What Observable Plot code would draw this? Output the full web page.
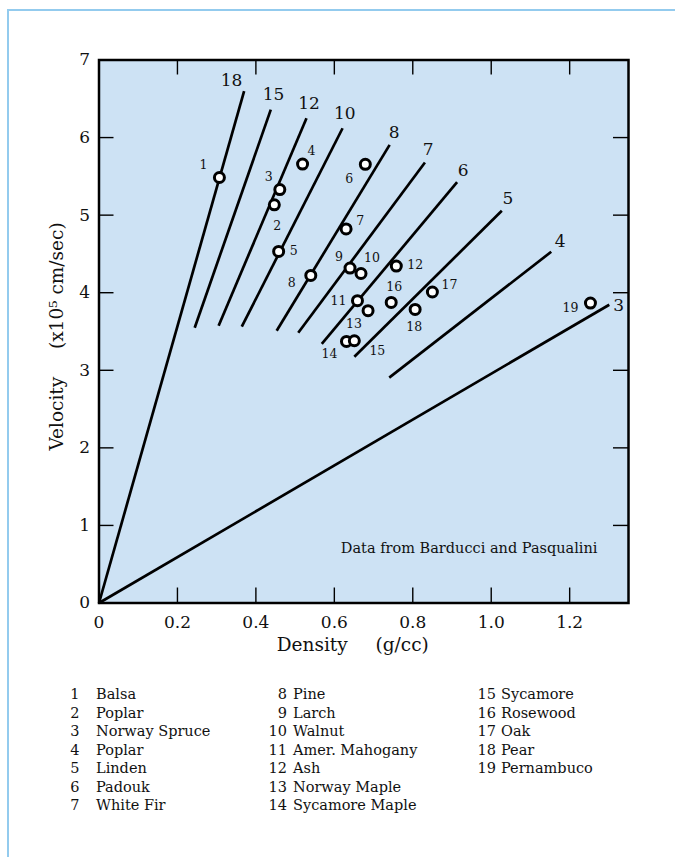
<!DOCTYPE html>
<html><head><meta charset="utf-8">
<script src="https://cdn.jsdelivr.net/npm/d3@7"></script>
<script src="https://cdn.jsdelivr.net/npm/@observablehq/plot@0.6"></script>
<style>
html,body{margin:0;padding:0;background:#fff;overflow:hidden;width:675px;height:857px;}
#page{position:relative;width:675px;height:857px;font-family:"DejaVu Serif",serif;color:#111;}
#border{position:absolute;left:7px;top:9px;width:720px;height:900px;border-left:2px solid #93cbee;border-top:2px solid #93cbee;}
#chart{position:absolute;left:0;top:0;}
#legend{position:absolute;left:0;top:685px;font-size:14.5px;line-height:18.5px;}
.item{position:absolute;white-space:nowrap;}
.num{position:absolute;text-align:right;width:30px;}
.name{position:absolute;}
</style>
</head><body><div id="page"><div id="border"></div><div id="chart"></div><div id="legend"></div></div>
<script>
// ---- data ----
const woodIds = [1,2,3,4,5,6,7,8,9,10,11,12,13,14,15,16,17,18,19];
const woodNames = ["Balsa","Poplar","Norway Spruce","Poplar","Linden","Padouk","White Fir",
  "Pine","Larch","Walnut","Amer. Mahogany","Ash","Norway Maple","Sycamore Maple",
  "Sycamore","Rosewood","Oak","Pear","Pernambuco"];
const density  = [0.307,0.447,0.461,0.519,0.458,0.679,0.630,0.540,0.640,0.668,0.659,0.758,0.686,0.631,0.651,0.745,0.850,0.806,1.253];
const velocity = [5.485,5.133,5.330,5.658,4.532,5.655,4.822,4.223,4.318,4.248,3.897,4.344,3.768,3.372,3.381,3.875,4.009,3.785,3.867];

const ratioLines        = [18,15,12,10,8,7,6,5,4,3];
const lineStartDensity  = [0,0.244,0.305,0.364,0.453,0.508,0.568,0.651,0.740,0];
const lineStartVelocity = [0,3.549,3.575,3.562,3.510,3.484,3.339,3.175,2.905,0];
const lineEndDensity    = [0.370,0.438,0.529,0.621,0.741,0.831,0.913,1.027,1.153,1.301];
const lineEndVelocity   = [6.600,6.360,6.250,6.120,5.906,5.678,5.426,5.056,4.528,3.845];

const xTickValues = [0,0.2,0.4,0.6,0.8,1.0,1.2];
const xTickLabels = ["0","0.2","0.4","0.6","0.8","1.0","1.2"];
const yTickValues = [0,1,2,3,4,5,6,7];
const yTickLabels = ["0","1","2","3","4","5","6","7"];

const xTitle = "Density\u2003\u2002(g/cc)";
const yTitle = "Velocity\u2003\u2002(x10\u2075 cm/sec)";
const note = "Data from Barducci and Pasqualini";

// ---- layout (pixel offsets of labels) ----
const pointLabelOffsets = [[-16,-13],[3,21],[-11,-13],[9,-13],[15,0],[-16,15],[14,-8],[-19,8],[-11,-11],[11,-15],[-19,0],[19,-1],[-14,13],[-17,13],[23,10],[3,-15],[17,-7],[-1,18],[-20,5]];
const lineLabelOffsets = [[-12.6,-10.7],[2.7,-15],[2.6,-15],[2.3,-15],[4.6,-12.3],[3.3,-13.4],[6,-12],[6,-12.7],[9,-10],[9.3,1]];

const woods = woodIds.map((id,i)=>({id, name:woodNames[i], x:density[i], y:velocity[i]}));
const lines = ratioLines.map((k,i)=>({k, x1:lineStartDensity[i], y1:lineStartVelocity[i], x2:lineEndDensity[i], y2:lineEndVelocity[i]}));

const W = 675, mL = 98.5, mR = 47, mT = 59.5, mB = 67.5, H = 670;
const innerW = W - mL - mR, innerH = H - mT - mB;
const T = 15;

const plot = Plot.plot({
  width: W, height: H,
  marginLeft: mL, marginRight: mR, marginTop: mT, marginBottom: mB,
  style: {fontFamily: "DejaVu Serif", background: "transparent", color: "#111"},
  x: {domain: [0, 1.35]},
  y: {domain: [0, 7]},
  marks: [
    Plot.frame({fill: "#cde2f4"}),
    Plot.tickX(xTickValues.slice(1), {x: d=>d, stroke:"black", strokeWidth:1.4, insetTop: innerH - T}),
    Plot.tickX(xTickValues.slice(1), {x: d=>d, stroke:"black", strokeWidth:1.4, insetBottom: innerH - T}),
    Plot.tickY(yTickValues.slice(1,-1), {y: d=>d, stroke:"black", strokeWidth:1.4, insetRight: innerW - T}),
    Plot.tickY(yTickValues.slice(1,-1), {y: d=>d, stroke:"black", strokeWidth:1.4, insetLeft: innerW - T}),
    Plot.link(lines, {x1:"x1", y1:"y1", x2:"x2", y2:"y2", stroke:"black", strokeWidth:2.7}),
    ...lines.map((l,i)=>Plot.text([l], {x:"x2", y:"y2", text: d=>String(d.k), dx: lineLabelOffsets[i][0], dy: lineLabelOffsets[i][1], fontSize:17, fill:"#111"})),
    Plot.dot(woods, {x:"x", y:"y", r:5, fill:"white", stroke:"black", strokeWidth:3}),
    ...woods.map((w,i)=>Plot.text([w], {x:"x", y:"y", text: d=>String(d.id), dx: pointLabelOffsets[i][0], dy: pointLabelOffsets[i][1], fontSize:12.5, fill:"#111"})),
    Plot.text([note], {text: d=>d, frameAnchor:"bottom-right", textAnchor:"end", dx:-31, dy:-50, fontSize:14.5, fill:"#111"}),
    Plot.frame({stroke:"black", strokeWidth:2.5}),
    Plot.axisX(xTickValues, {anchor:"bottom", tickSize:0, tickPadding:13, fontSize:17, label:null, tickFormat: d=>xTickLabels[xTickValues.indexOf(d)]}),
    Plot.axisY(yTickValues, {anchor:"left", tickSize:0, tickPadding:9, fontSize:17, label:null, tickFormat: d=>yTickLabels[yTickValues.indexOf(d)]}),
    Plot.text([xTitle], {text:d=>d, frameAnchor:"bottom", textAnchor:"middle", dx:-11, dy:48, fontSize:18.5, fill:"#111"}),
    Plot.text([yTitle], {text:d=>d, frameAnchor:"left", textAnchor:"middle", rotate:-90, dx:-41.5, dy:5, fontSize:18.5, fill:"#111"})
  ]
});
document.getElementById("chart").appendChild(plot);

// legend
const legend = document.getElementById("legend");
const cols = [{numRight:79.5, nameLeft:96}, {numRight:287, nameLeft:293}, {numRight:496, nameLeft:501}];
woods.forEach((w,i)=>{
  const c = i < 7 ? 0 : i < 14 ? 1 : 2;
  const row = i < 7 ? i : i < 14 ? i-7 : i-14;
  const num = document.createElement("div");
  num.className = "item num";
  num.style.left = (cols[c].numRight - 30) + "px";
  num.style.top = (row*18.5) + "px";
  num.textContent = w.id;
  const nm = document.createElement("div");
  nm.className = "item name";
  nm.style.left = cols[c].nameLeft + "px";
  nm.style.top = (row*18.5) + "px";
  nm.textContent = w.name;
  legend.appendChild(num); legend.appendChild(nm);
});
</script>
</body></html>
